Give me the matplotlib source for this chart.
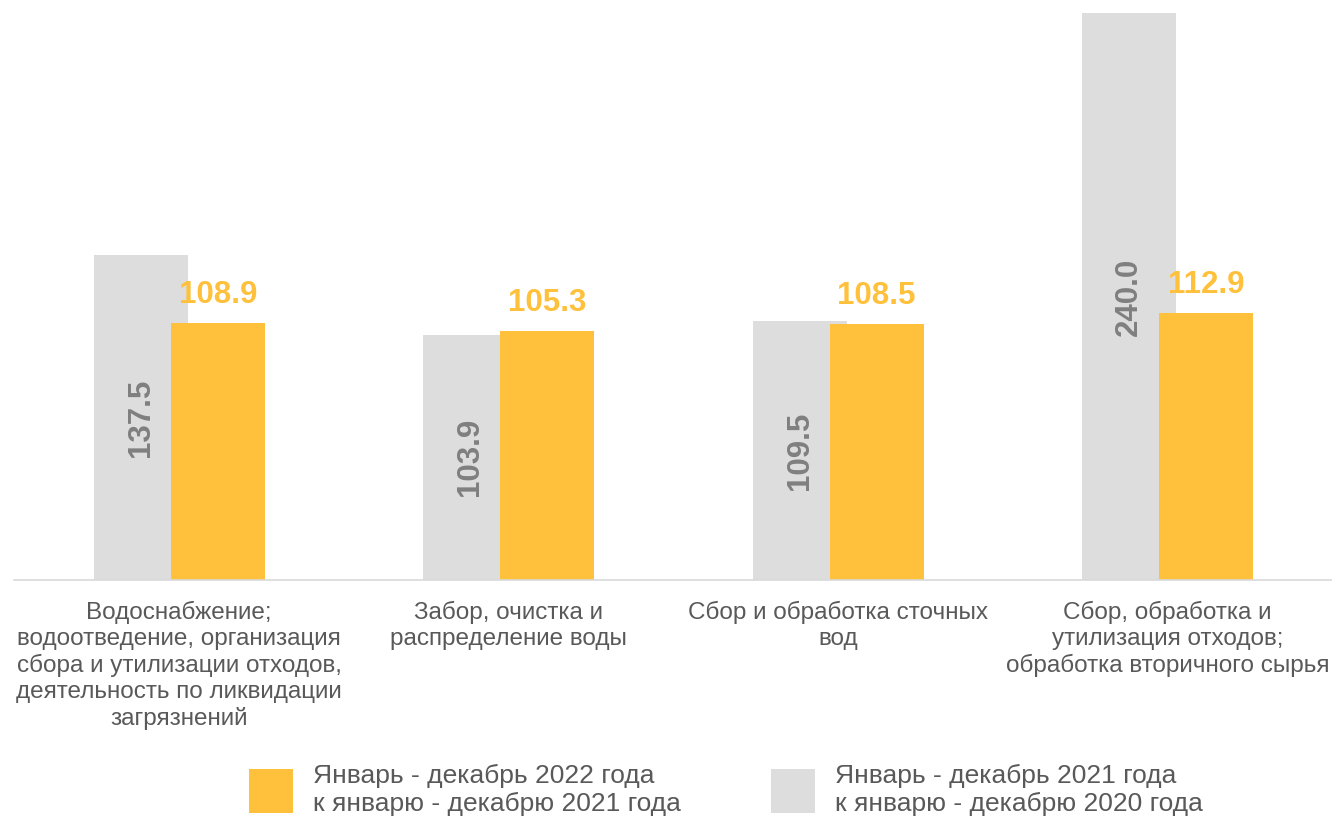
import matplotlib.pyplot as plt
import numpy as np

plt.rcParams['font.family'] = ['Liberation Sans', 'DejaVu Sans']

# --- Data ---
categories = [
    "Водоснабжение;\nводоотведение, организация\nсбора и утилизации отходов,\nдеятельность по ликвидации\nзагрязнений",
    "Забор, очистка и\nраспределение воды",
    "Сбор и обработка сточных\nвод",
    "Сбор, обработка и\nутилизация отходов;\nобработка вторичного сырья",
]
values_2021 = [137.5, 103.9, 109.5, 240.0]
values_2022 = [108.9, 105.3, 108.5, 112.9]
label_2021 = "Январь - декабрь 2021 года\nк январю - декабрю 2020 года"
label_2022 = "Январь - декабрь 2022 года\nк январю - декабрю 2021 года"

gray = '#DDDDDD'
yellow = '#FFC13C'
text_gray = '#595959'
value_gray = '#7F7F7F'

fig = plt.figure(figsize=(13.32, 8.21), dpi=100)
ax = fig.add_axes([0.0108, 0.2935, 0.9895, 0.6905])

x = np.arange(len(categories))
w = 0.285
off = 0.117

bars_g = ax.bar(x - off, values_2021, w, color=gray, label=label_2021, zorder=1)
bars_y = ax.bar(x + off, values_2022, w, color=yellow, label=label_2022, zorder=2)

# gray labels: rotated, centered inside bar
for b, v in zip(bars_g, values_2021):
    ax.text(b.get_x() + b.get_width() / 2, v / 2, f"{v:.1f}", rotation=90,
            ha='center', va='center', fontsize=22.5, fontweight='bold',
            color=value_gray, zorder=3)

# yellow labels above bar
for b, v in zip(bars_y, values_2022):
    ax.text(b.get_x() + b.get_width() / 2, v + 5.5, f"{v:.1f}",
            ha='center', va='bottom', fontsize=22.5, fontweight='bold',
            color=yellow, zorder=3)

ax.set_xlim(-0.5, len(categories) - 0.5)
ax.set_ylim(0, 240)
ax.set_xticks(x)
ax.set_xticklabels(categories, fontsize=17.5, color=text_gray, linespacing=1.22)
ax.tick_params(axis='x', length=0, pad=15)
ax.set_yticks([])
for s in ['top', 'right', 'left']:
    ax.spines[s].set_visible(False)
ax.spines['bottom'].set_color('#D9D9D9')
ax.spines['bottom'].set_linewidth(1.2)

handles = [bars_y, bars_g]
labels = [label_2022, label_2021]
leg = fig.legend(handles, labels, loc='center', bbox_to_anchor=(726 / 1332, 1 - 790 / 821),
                 ncol=2, frameon=False, fontsize=19, handlelength=1.67, handleheight=2.2,
                 handletextpad=0.75, columnspacing=3.42, labelcolor=text_gray)
for t in leg.get_texts():
    t.set_linespacing(1.2)

fig.savefig('out.png', dpi=100)
